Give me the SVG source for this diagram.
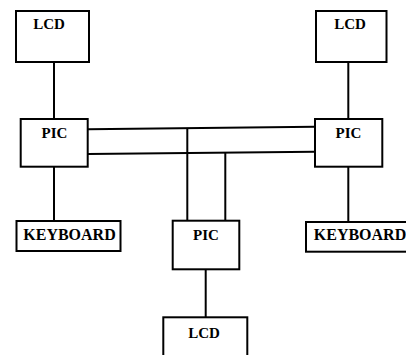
<svg xmlns="http://www.w3.org/2000/svg" width="406" height="355" viewBox="0 0 406 355">
<style>
.box{fill:#fff;stroke:#000;stroke-width:2}
.ln{stroke:#000;stroke-width:2;fill:none}
.t{font-family:"Liberation Serif","Times New Roman",serif;font-weight:bold;font-size:15px;fill:#000;text-anchor:middle}
.k{font-size:16px}
</style>
<rect width="406" height="355" fill="#fff"/>
<g id="connectors">
<line class="ln" x1="54" y1="62" x2="54" y2="119"/>
<line class="ln" x1="348.3" y1="62" x2="348.3" y2="119"/>
<line class="ln" x1="54" y1="167" x2="54" y2="221"/>
<line class="ln" x1="348.3" y1="167" x2="348.3" y2="222"/>
<line class="ln" x1="88" y1="129.3" x2="315" y2="126.7"/>
<line class="ln" x1="88" y1="154" x2="315" y2="151.7"/>
<line class="ln" x1="187.3" y1="128.2" x2="187.3" y2="221"/>
<line class="ln" x1="225.3" y1="152.5" x2="225.3" y2="221"/>
<line class="ln" x1="205.7" y1="269" x2="205.7" y2="317.3"/>
</g>
<g id="lcd-left">
<rect class="box" x="16" y="11" width="73" height="51"/>
<text class="t" x="49" y="29">LCD</text>
</g>
<g id="lcd-right">
<rect class="box" x="316" y="11" width="70.5" height="51"/>
<text class="t" x="350" y="29">LCD</text>
</g>
<g id="pic-left">
<rect class="box" x="20.7" y="119" width="67" height="47.7"/>
<text class="t" x="54.5" y="138">PIC</text>
</g>
<g id="pic-right">
<rect class="box" x="315" y="119" width="67.3" height="47.7"/>
<text class="t" x="348.5" y="138">PIC</text>
</g>
<g id="keyboard-left">
<rect class="box" x="16.5" y="221" width="104" height="30"/>
<text class="t k" x="69.5" y="240">KEYBOARD</text>
</g>
<g id="keyboard-right">
<rect class="box" x="306" y="222" width="102" height="29.7"/>
<text class="t k" x="360" y="240">KEYBOARD</text>
</g>
<g id="pic-bottom">
<rect class="box" x="172.7" y="220.7" width="66.6" height="48.6"/>
<text class="t" x="206" y="240">PIC</text>
</g>
<g id="lcd-bottom">
<rect class="box" x="163.3" y="317.3" width="84" height="50"/>
<text class="t" x="204" y="338.3">LCD</text>
</g>
</svg>
